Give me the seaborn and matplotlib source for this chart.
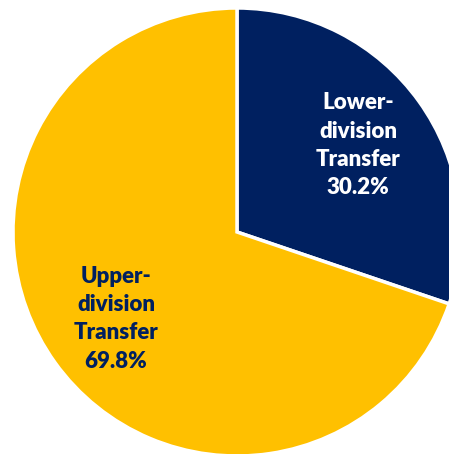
import matplotlib
matplotlib.use("Agg")
import matplotlib.pyplot as plt
import seaborn as sns

categories = ["Lower-\ndivision\nTransfer", "Upper-\ndivision\nTransfer"]
values = [30.2, 69.8]
colors = ["#002060", "#FFC000"]
text_colors = ["white", "#002060"]

sns.set_theme(style="white")
plt.rcParams['font.family'] = ['Lato', 'DejaVu Sans']

fig = plt.figure(figsize=(4.49, 4.54), dpi=100)
W, H = 449, 454
cx, cy, r = 237, 232, 224
ax = fig.add_axes([(cx - r) / W, (H - cy - r) / H, 2 * r / W, 2 * r / H])

labels_iter = iter(range(len(values)))
def fmt(p):
    i = next(labels_iter)
    return f"{categories[i]}\n{values[i]:.1f}%"

wedges, texts, autotexts = ax.pie(
    values, colors=colors, startangle=90, counterclock=False,
    autopct=fmt, pctdistance=0.665,
    wedgeprops=dict(edgecolor="white", linewidth=2.5),
    textprops=dict(fontsize=16, fontweight="heavy", linespacing=1.42),
)
for t, c in zip(autotexts, text_colors):
    t.set_color(c)
    t.set_ha("center")
    t.set_va("center")

ax.set_xlim(-1, 1)
ax.set_ylim(-1, 1)
ax.set_aspect("auto")
ax.axis("off")
fig.patch.set_facecolor("white")
fig.savefig("out.png", dpi=100)
